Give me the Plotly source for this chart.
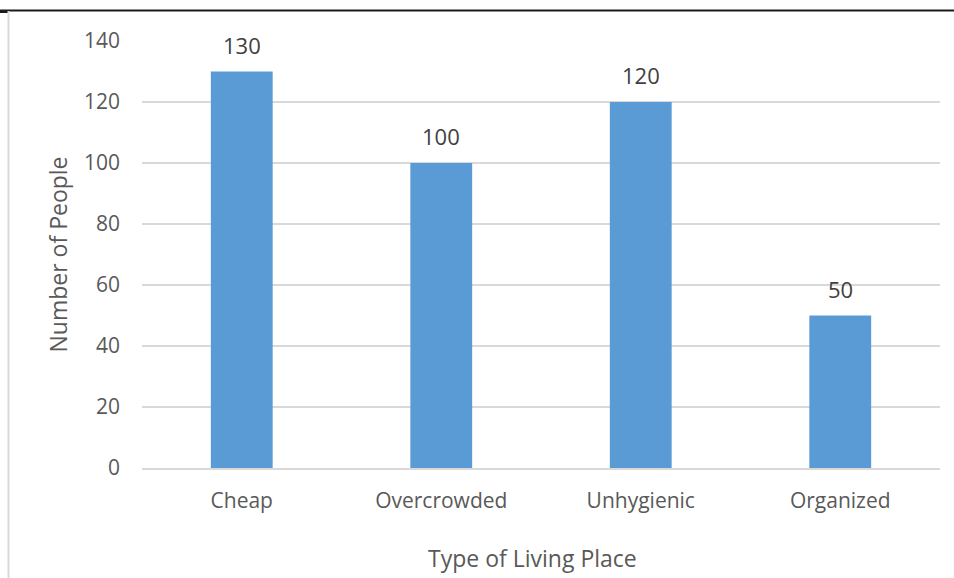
import plotly.graph_objects as go

categories = ["Cheap", "Overcrowded", "Unhygienic", "Organized"]
values = [130, 100, 120, 50]
y_ticks = [0, 20, 40, 60, 80, 100, 120, 140]

FONT = "Open Sans"
W, H = 954, 578
L, R, T, B = 142, 14, 41, 110
pw, ph = W - L - R, H - T - B

def px_x(x):
    return (x - L) / pw

def px_y(y):
    return (H - B - y) / ph

fig = go.Figure()
fig.add_trace(go.Bar(
    x=categories, y=values,
    marker=dict(color="#5b9bd5", line=dict(width=0)),
    width=0.31,
    hoverinfo="x+y",
))

for c, v in zip(categories, values):
    fig.add_annotation(x=c, y=v, text=str(v), showarrow=False,
                       yanchor="bottom", yshift=10,
                       font=dict(family=FONT, size=22, color="#404040"))

fig.add_annotation(text="Type of Living Place", showarrow=False,
                   xref="paper", yref="paper",
                   x=px_x(532), y=px_y(558), xanchor="center", yanchor="middle",
                   font=dict(family=FONT, size=23, color="#595959"))

fig.update_layout(
    width=W, height=H,
    margin=dict(l=L, r=R, t=T, b=B),
    paper_bgcolor="white", plot_bgcolor="white",
    showlegend=False,
    xaxis=dict(
        showgrid=False, showline=True, linecolor="#d9d9d9", linewidth=1.5,
        tickfont=dict(family=FONT, size=21, color="#595959"),
        ticks="", ticklabelstandoff=13,
    ),
    yaxis=dict(
        range=[0, 140], tickvals=y_ticks,
        showgrid=True, gridcolor="#d9d9d9", gridwidth=1.5,
        zeroline=False, showline=False,
        tickfont=dict(family=FONT, size=21, color="#595959"),
        ticks="", ticklabelstandoff=21,
        title=dict(text="Number of People", standoff=9,
                   font=dict(family=FONT, size=23, color="#595959")),
    ),
    shapes=[
        dict(type="line", xref="paper", yref="paper",
             x0=px_x(0), x1=px_x(W), y0=px_y(10.5), y1=px_y(10.5),
             line=dict(color="#1a1a1a", width=2)),
        dict(type="line", xref="paper", yref="paper",
             x0=px_x(0), x1=px_x(8), y0=px_y(11.5), y1=px_y(11.5),
             line=dict(color="#1a1a1a", width=3)),
        dict(type="line", xref="paper", yref="paper",
             x0=px_x(8.5), x1=px_x(8.5), y0=px_y(11), y1=px_y(H),
             line=dict(color="#d9d9d9", width=2)),
    ],
)

fig.write_html("out.html")
